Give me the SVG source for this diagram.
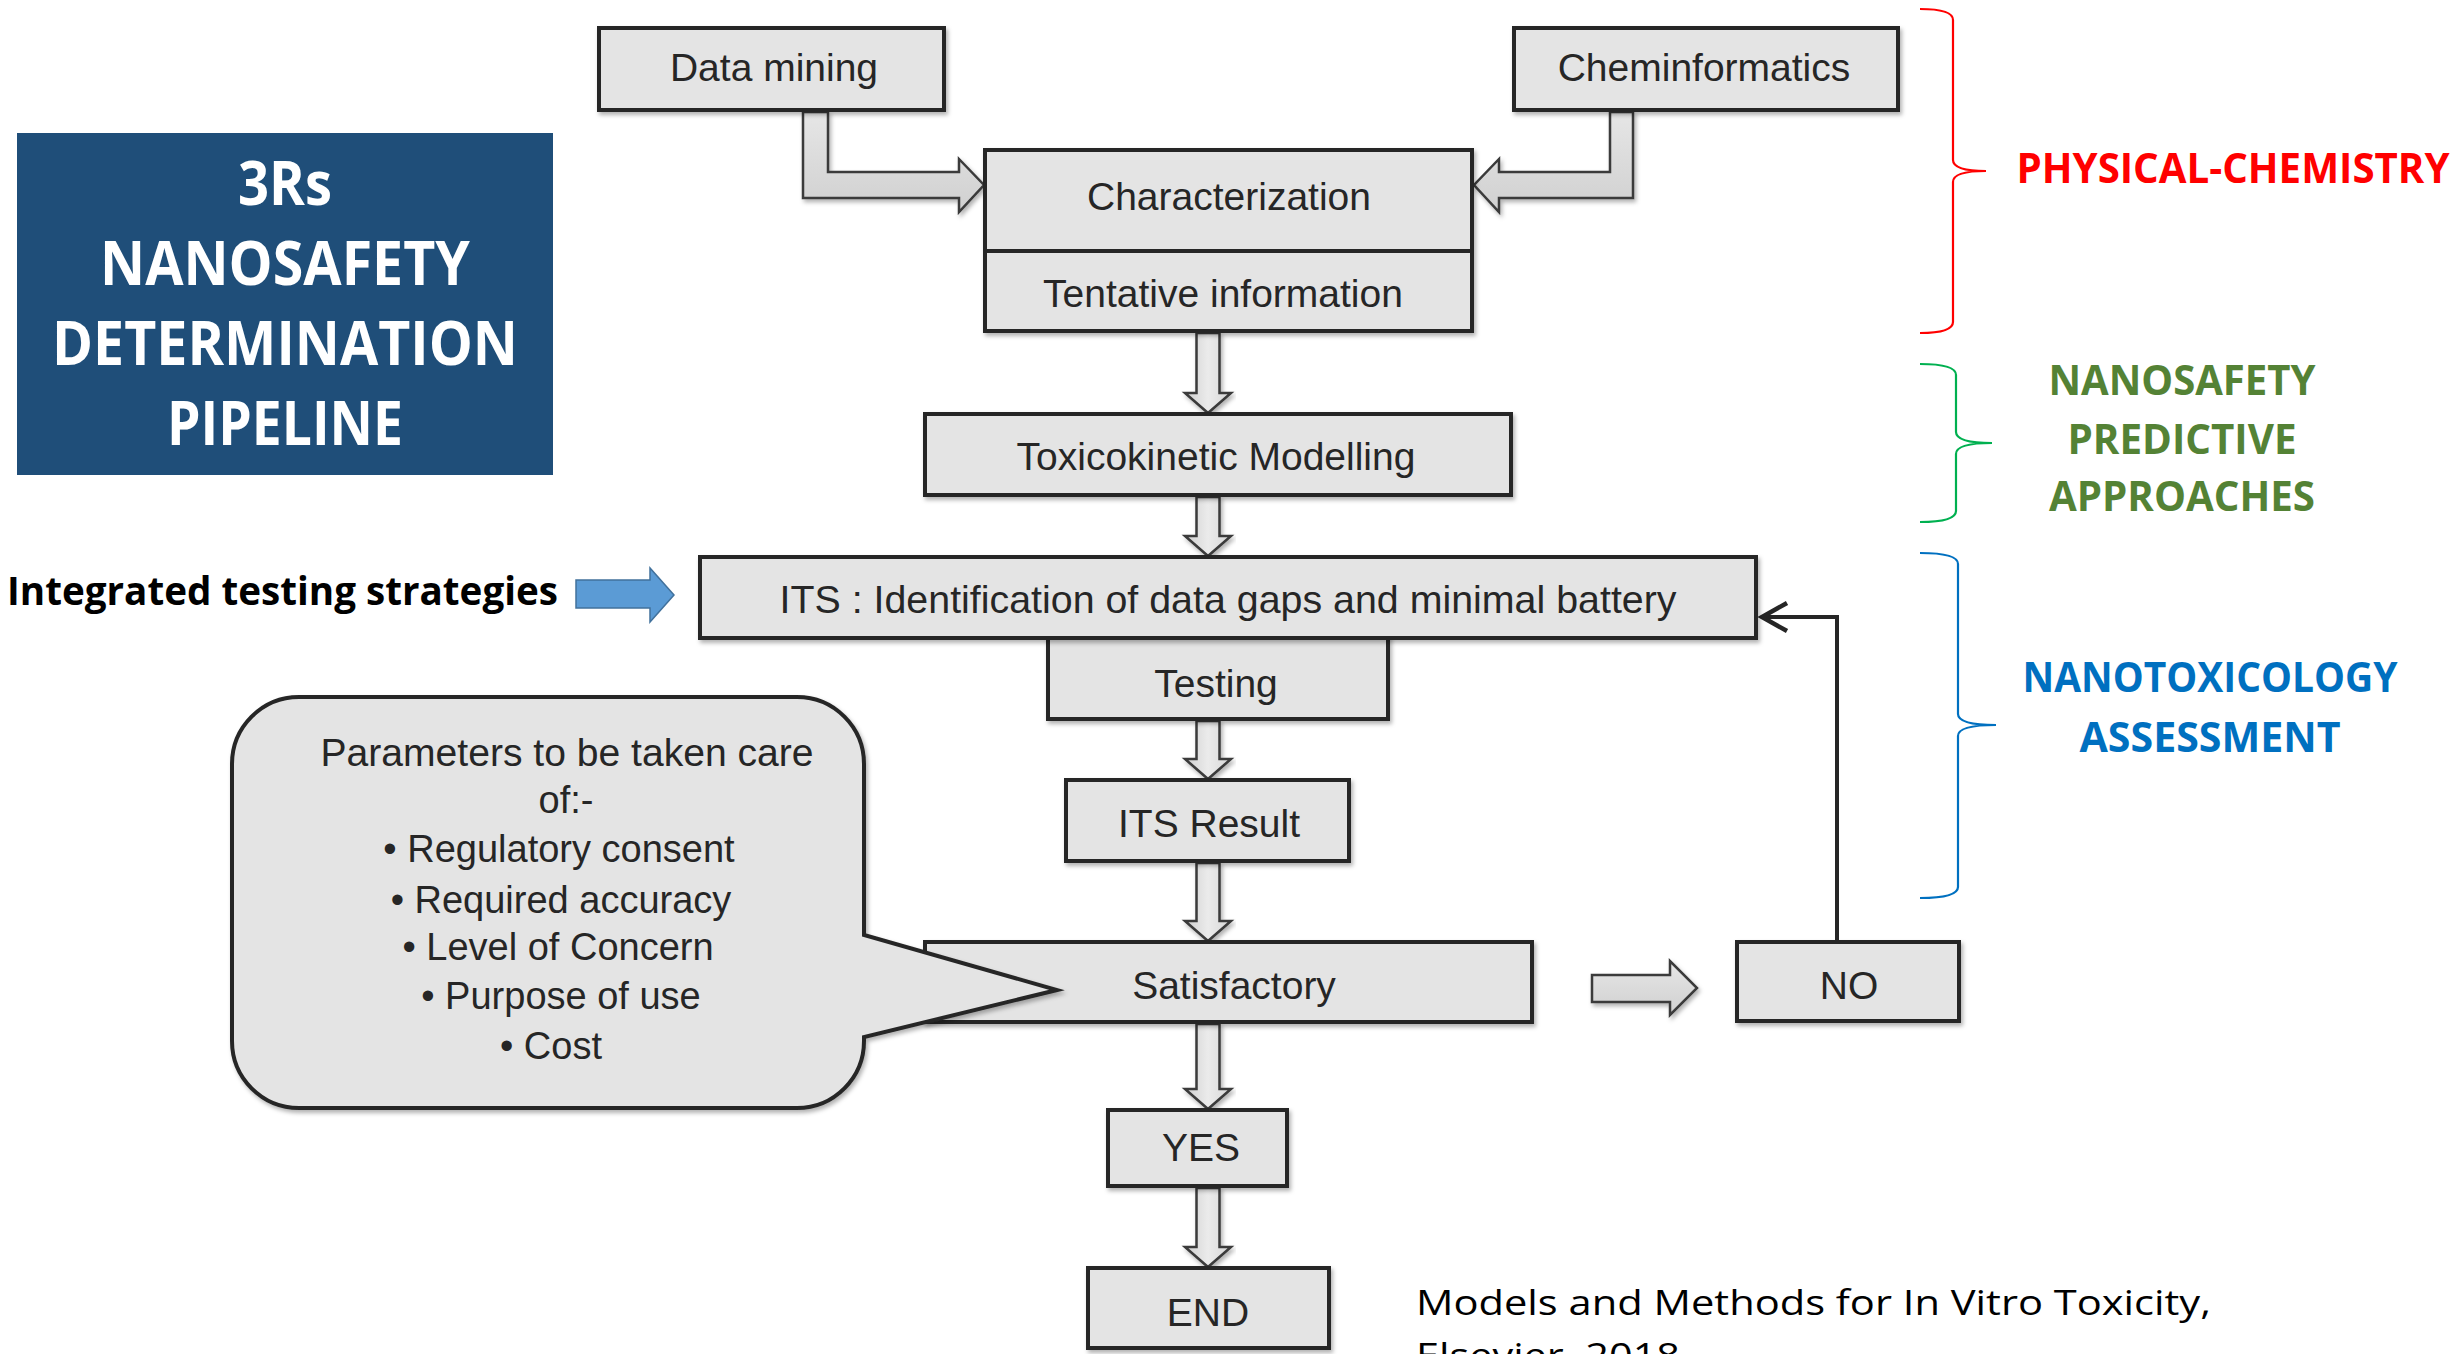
<svg xmlns="http://www.w3.org/2000/svg" width="2458" height="1354" viewBox="0 0 2458 1354">
<defs>
<style>
.box{fill:#e4e4e4;stroke:#262626;stroke-width:4;filter:url(#sh)}
.t{font-family:"Liberation Sans",Arial,sans-serif;font-size:39px;fill:#262626;text-anchor:middle}
.bt{font-family:"Liberation Sans",Arial,sans-serif;font-size:38px;fill:#262626;text-anchor:middle}
.harrow{fill:url(#gv);stroke:#3a3a3a;stroke-width:2.5;stroke-linejoin:miter;filter:url(#sh)}
.varrow{fill:url(#gh);stroke:#3a3a3a;stroke-width:2.5;stroke-linejoin:miter;filter:url(#sh)}
.title{font-family:"Open Sans","Noto Sans",sans-serif;font-weight:700;font-size:60px;fill:#ffffff;text-anchor:middle}
.lab{font-family:"Open Sans","Noto Sans",sans-serif;font-weight:700;font-size:41px;text-anchor:middle}
.brace{fill:none;stroke-width:2.2}
</style>
<filter id="sh" x="-10%" y="-10%" width="120%" height="130%">
<feDropShadow dx="2" dy="3" stdDeviation="2" flood-color="#000" flood-opacity="0.3"/>
</filter>
<linearGradient id="gh" x1="0" y1="0" x2="1" y2="0">
<stop offset="0" stop-color="#cfcfcf"/><stop offset="0.5" stop-color="#ebebeb"/><stop offset="1" stop-color="#d6d6d6"/>
</linearGradient>
<linearGradient id="gv" x1="0" y1="0" x2="0" y2="1">
<stop offset="0" stop-color="#e6e6e6"/><stop offset="1" stop-color="#d0d0d0"/>
</linearGradient>
</defs>
<rect width="2458" height="1354" fill="#ffffff"/>

<g id="title-box">
<rect x="17" y="133" width="536" height="342" fill="#1F4E79"/>
<text class="title" x="285" y="205" textLength="94" lengthAdjust="spacingAndGlyphs">3Rs</text>
<text class="title" x="285" y="285" textLength="370" lengthAdjust="spacingAndGlyphs">NANOSAFETY</text>
<text class="title" x="285" y="365" textLength="466" lengthAdjust="spacingAndGlyphs">DETERMINATION</text>
<text class="title" x="285" y="445" textLength="236" lengthAdjust="spacingAndGlyphs">PIPELINE</text>
</g>

<g id="its-label">
<text x="7" y="605" font-family="Open Sans, Noto Sans, sans-serif" font-weight="700" font-size="39" fill="#000" textLength="551" lengthAdjust="spacingAndGlyphs">Integrated testing strategies</text>
<path d="M576 580 H650 V568 L674 595 L650 622 V608 H576 Z" fill="#5B9BD5" stroke="#41719C" stroke-width="1.5"/>
</g>

<g id="connectors">
<path class="harrow" d="M803 112 V198 H959 V212 L984 185 L959 159 V172 H828 V112 Z"/>
<path class="harrow" d="M1633 112 V198 H1499 V212 L1474 185 L1499 159 V172 H1610 V112 Z"/>
<path class="varrow" d="M1196.5 333 V393 H1185 L1208 413 L1231 393 H1219.5 V333 Z"/>
<path class="varrow" d="M1196.5 497 V536 H1185 L1208 556 L1231 536 H1219.5 V497 Z"/>
<path class="varrow" d="M1196.5 721 V759 H1185 L1208 779 L1231 759 H1219.5 V721 Z"/>
<path class="varrow" d="M1196.5 863 V921 H1185 L1208 941 L1231 921 H1219.5 V863 Z"/>
<path class="varrow" d="M1196.5 1024 V1089 H1185 L1208 1109 L1231 1089 H1219.5 V1024 Z"/>
<path class="varrow" d="M1196.5 1188 V1247 H1185 L1208 1267 L1231 1247 H1219.5 V1188 Z"/>
<path class="harrow" d="M1592 975 H1670 V961 L1697 988 L1670 1015 V1002 H1592 Z"/>
<polyline points="1837,940 1837,617 1762,617" fill="none" stroke="#262626" stroke-width="4"/>
<path d="M1787 603 L1762 617 L1787 631" fill="none" stroke="#262626" stroke-width="4.5" stroke-linejoin="miter"/>
</g>

<g id="data-mining">
<rect class="box" x="599" y="28" width="345" height="82"/>
<text class="t" x="774" y="81">Data mining</text>
</g>
<g id="cheminformatics">
<rect class="box" x="1514" y="28" width="384" height="82"/>
<text class="t" x="1704" y="81">Cheminformatics</text>
</g>
<g id="characterization">
<rect class="box" x="985" y="150" width="487" height="181"/>
<line x1="985" y1="251" x2="1472" y2="251" stroke="#262626" stroke-width="4"/>
<text class="t" x="1229" y="210">Characterization</text>
<text class="t" x="1223" y="307">Tentative information</text>
</g>
<g id="toxicokinetic">
<rect class="box" x="925" y="414" width="586" height="81"/>
<text class="t" x="1216" y="470">Toxicokinetic Modelling</text>
</g>
<g id="testing">
<rect class="box" x="1048" y="636" width="340" height="83"/>
<text class="t" x="1216" y="697">Testing</text>
</g>
<g id="its">
<rect class="box" x="700" y="557" width="1056" height="81"/>
<text class="t" x="1228" y="613" textLength="897" lengthAdjust="spacingAndGlyphs">ITS : Identification of data gaps and minimal battery</text>
</g>
<g id="its-result">
<rect class="box" x="1066" y="780" width="283" height="81"/>
<text class="t" x="1209" y="837">ITS Result</text>
</g>
<g id="satisfactory">
<rect class="box" x="925" y="942" width="607" height="80"/>
<text class="t" x="1234" y="999">Satisfactory</text>
</g>
<g id="no">
<rect class="box" x="1737" y="942" width="222" height="79"/>
<text class="t" x="1849" y="999">NO</text>
</g>
<g id="yes">
<rect class="box" x="1108" y="1110" width="179" height="76"/>
<text class="t" x="1201" y="1161">YES</text>
</g>
<g id="end">
<rect class="box" x="1088" y="1268" width="241" height="80"/>
<text class="t" x="1208" y="1326">END</text>
</g>

<g id="parameters-callout">
<path d="M299 697 H797 A67 67 0 0 1 864 764 V935 L1057 990 L864 1037 V1041 A67 67 0 0 1 797 1108 H299 A67 67 0 0 1 232 1041 V764 A67 67 0 0 1 299 697 Z" fill="#e4e4e4" stroke="#262626" stroke-width="4" stroke-linejoin="miter" filter="url(#sh)"/>
<text class="bt" x="567" y="766" textLength="493" lengthAdjust="spacingAndGlyphs">Parameters to be taken care</text>
<text class="bt" x="566" y="813">of:-</text>
<text class="bt" x="559" y="862">• Regulatory consent</text>
<text class="bt" x="561" y="913">• Required accuracy</text>
<text class="bt" x="558" y="960">• Level of Concern</text>
<text class="bt" x="561" y="1009">• Purpose of use</text>
<text class="bt" x="551" y="1059">• Cost</text>
</g>

<g id="physical-chemistry">
<path class="brace" stroke="#FF0000" d="M1920 9 Q1953 9 1953 20 V160 Q1953 171 1986 171 Q1953 171 1953 182 V322 Q1953 333 1920 333"/>
<text class="lab" fill="#FF0000" x="2233" y="183" textLength="433" lengthAdjust="spacingAndGlyphs">PHYSICAL-CHEMISTRY</text>
</g>
<g id="predictive">
<path class="brace" stroke="#00B050" d="M1920 364 Q1956 364 1956 375 V432 Q1956 443 1992 443 Q1956 443 1956 454 V511 Q1956 522 1920 522"/>
<text class="lab" fill="#548235" x="2182" y="395" textLength="267" lengthAdjust="spacingAndGlyphs">NANOSAFETY</text>
<text class="lab" fill="#548235" x="2182" y="454" textLength="229" lengthAdjust="spacingAndGlyphs">PREDICTIVE</text>
<text class="lab" fill="#548235" x="2182" y="511" textLength="266" lengthAdjust="spacingAndGlyphs">APPROACHES</text>
</g>
<g id="nanotoxicology">
<path class="brace" stroke="#0070C0" d="M1920 553 Q1958 553 1958 564 V714 Q1958 725 1996 725 Q1958 725 1958 736 V887 Q1958 898 1920 898"/>
<text class="lab" fill="#0070C0" x="2210" y="692" textLength="375" lengthAdjust="spacingAndGlyphs">NANOTOXICOLOGY</text>
<text class="lab" fill="#0070C0" x="2210" y="752" textLength="261" lengthAdjust="spacingAndGlyphs">ASSESSMENT</text>
</g>

<g id="citation">
<text x="1416" y="1315" font-family="Open Sans, Noto Sans, sans-serif" font-size="35" fill="#000" textLength="795" lengthAdjust="spacingAndGlyphs">Models and Methods for In Vitro Toxicity,</text>
<text x="1416" y="1368" font-family="Open Sans, Noto Sans, sans-serif" font-size="35" fill="#000" textLength="264" lengthAdjust="spacingAndGlyphs">Elsevier, 2018</text>
</g>
</svg>
